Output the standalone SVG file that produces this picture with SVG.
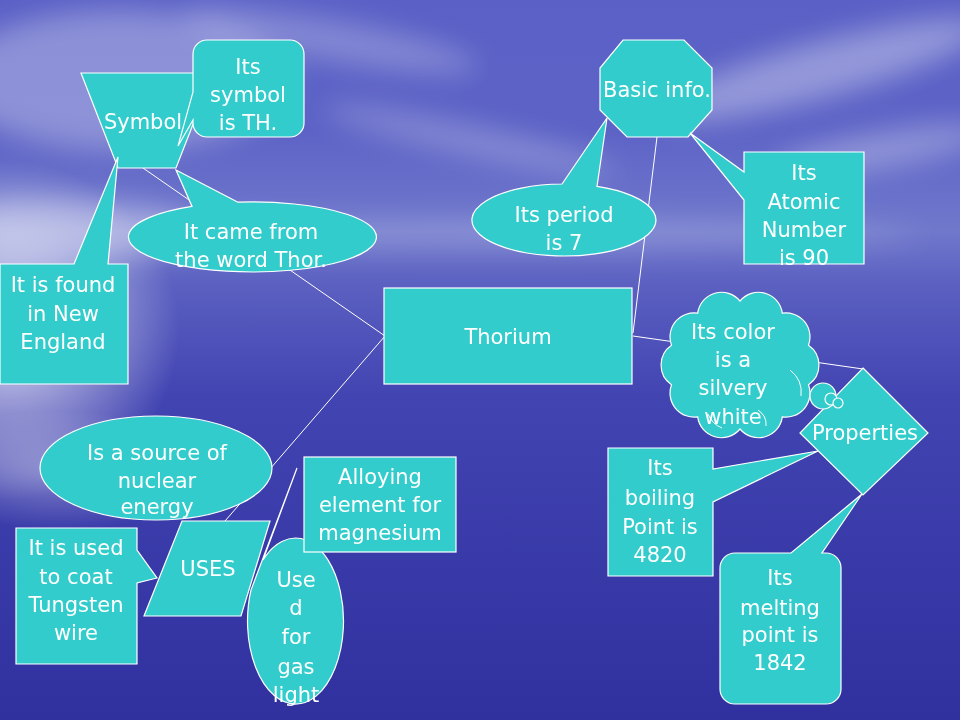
<svg xmlns="http://www.w3.org/2000/svg" width="960" height="720" viewBox="0 0 960 720">
<defs>
<linearGradient id="bg" x1="0" y1="0" x2="0" y2="1">
<stop offset="0" stop-color="#5a60c6"/>
<stop offset="0.18" stop-color="#5d63c6"/>
<stop offset="0.32" stop-color="#7078cc"/>
<stop offset="0.4" stop-color="#5a5fc0"/>
<stop offset="0.55" stop-color="#4244b2"/>
<stop offset="1" stop-color="#30309f"/>
</linearGradient>
<radialGradient id="glow" cx="0.5" cy="0.5" r="0.5">
<stop offset="0" stop-color="#ffffff" stop-opacity="0.8"/>
<stop offset="1" stop-color="#ffffff" stop-opacity="0"/>
</radialGradient>
<filter id="blur" x="-50%" y="-50%" width="200%" height="200%"><feGaussianBlur stdDeviation="14"/></filter>
<style>
.n{fill:#33CCCC;stroke:#ffffff;stroke-width:1.2}
.t{fill:#ffffff;font-family:"DejaVu Sans",Verdana,sans-serif;font-size:21px;text-anchor:middle}
.c{stroke:#ffffff;stroke-width:1;fill:none}
.in{fill:none;stroke:#ffffff;stroke-width:1}
</style>
</defs>
<rect width="960" height="720" fill="url(#bg)"/>
<g filter="url(#blur)" fill="#ffffff">
<ellipse cx="120" cy="80" rx="170" ry="70" opacity="0.3"/>
<ellipse cx="330" cy="40" rx="150" ry="20" opacity="0.25" transform="rotate(10 330 40)"/>
<ellipse cx="820" cy="70" rx="170" ry="28" opacity="0.35" transform="rotate(-15 820 70)"/>
<ellipse cx="880" cy="150" rx="110" ry="18" opacity="0.3" transform="rotate(-10 880 150)"/>
<ellipse cx="470" cy="140" rx="150" ry="14" opacity="0.25" transform="rotate(12 470 140)"/>
<ellipse cx="60" cy="230" rx="140" ry="30" opacity="0.35"/>
<ellipse cx="500" cy="235" rx="420" ry="14" opacity="0.2"/>
</g>
<ellipse cx="10" cy="330" rx="170" ry="170" fill="url(#glow)"/>
<ellipse cx="60" cy="470" rx="150" ry="60" fill="url(#glow)" opacity="0.45"/>

<g id="connectors">
<line class="c" x1="143" y1="168" x2="385" y2="336"/>
<line class="c" x1="385" y1="336" x2="225" y2="521"/>
<line class="c" x1="657" y1="137" x2="633" y2="333"/>
<line class="c" x1="633" y1="336" x2="863" y2="369"/>
</g>

<g id="thorium">
<rect class="n" x="384" y="288" width="248" height="96"/>
<text class="t" x="508" y="344">Thorium</text>
</g>

<g id="symbol">
<polygon class="n" points="81,73 213,73 176,168 118,168"/>
<text class="t" x="143" y="129">Symbol</text>
</g>

<g id="symbol-th">
<path class="n" d="M207,40 H290 A14 14 0 0 1 304,54 V123 A14 14 0 0 1 290,137 H207 A14 14 0 0 1 193,123 V120 L178,146 L193,92 V54 A14 14 0 0 1 207,40 Z"/>
<text class="t" x="248" y="74">Its</text>
<text class="t" x="248" y="102">symbol</text>
<text class="t" x="248" y="130">is TH.</text>
</g>

<g id="new-england">
<path class="n" d="M0,264 H74 L118,157 L108,264 H128 V384 H0 Z"/>
<text class="t" x="63" y="292">It is found</text>
<text class="t" x="63" y="321">in New</text>
<text class="t" x="63" y="349">England</text>
</g>

<g id="thor-word">
<path class="n" d="M238,202.2 L176,170 L192,206.4 A124 35 0 1 0 238,202.2 Z"/>
<text class="t" x="251" y="239">It came from</text>
<text class="t" x="251" y="267">the word Thor.</text>
</g>

<g id="basic-info">
<polygon class="n" points="623,40 684,40 712,68 712,110 688,137 627,137 600,110 600,68"/>
<text class="t" x="657" y="97">Basic info.</text>
</g>

<g id="period">
<path class="n" d="M562,184 L607,118 L597,186.4 A92 36 0 1 1 562,184 Z"/>
<text class="t" x="564" y="222">Its period</text>
<text class="t" x="564" y="250">is 7</text>
</g>

<g id="atomic">
<path class="n" d="M744,152 H864 V264 H744 V200 L690,133 L744,172 Z"/>
<text class="t" x="804" y="180">Its</text>
<text class="t" x="804" y="209">Atomic</text>
<text class="t" x="804" y="237">Number</text>
<text class="t" x="804" y="265">is 90</text>
</g>

<g id="properties">
<polygon class="n" points="863,368 928,433 863,495 800,433"/>
<text class="t" x="865" y="440">Properties</text>
</g>

<g id="color">
<path class="n" d="M808.5,384.8 A24 24 0 0 1 782.3,416.8 A24 24 0 0 1 740,429 A24 24 0 0 1 697.7,416.8 A24 24 0 0 1 671.5,384.8 A24 24 0 0 1 671.5,345.2 A24 24 0 0 1 697.7,313.2 A24 24 0 0 1 740,301 A24 24 0 0 1 782.3,313.2 A24 24 0 0 1 808.5,345.2 A24 24 0 0 1 808.5,384.8 Z"/>
<path class="in" d="M790,370 Q803,380 801,396"/>
<path class="in" d="M758,410 Q767,416 766,426"/>
<path class="in" d="M722,428 Q712,424 708,414"/>
<circle class="n" cx="823" cy="396" r="13"/>
<circle class="n" cx="831" cy="399" r="6"/>
<circle class="n" cx="838" cy="403" r="5"/>
<text class="t" x="733" y="339">Its color</text>
<text class="t" x="733" y="367">is a</text>
<text class="t" x="733" y="395">silvery</text>
<text class="t" x="733" y="424">white</text>
</g>

<g id="boiling">
<path class="n" d="M608,448 H713 V469 L818,451 L713,502 V576 H608 Z"/>
<text class="t" x="660" y="475">Its</text>
<text class="t" x="660" y="505">boiling</text>
<text class="t" x="660" y="534">Point is</text>
<text class="t" x="660" y="562">4820</text>
</g>

<g id="melting">
<path class="n" d="M735,553 H791 L862,494 L822,553 H826 A15 15 0 0 1 841,568 V689 A15 15 0 0 1 826,704 H735 A15 15 0 0 1 720,689 V568 A15 15 0 0 1 735,553 Z"/>
<text class="t" x="780" y="585">Its</text>
<text class="t" x="780" y="615">melting</text>
<text class="t" x="780" y="642">point is</text>
<text class="t" x="780" y="670">1842</text>
</g>

<g id="uses">
<polygon class="n" points="182,521 270,521 241,616 144,616"/>
<text class="t" x="208" y="576">USES</text>
</g>

<g id="nuclear">
<ellipse class="n" cx="156" cy="468" rx="116" ry="52"/>
<text class="t" x="157" y="460">Is a source of</text>
<text class="t" x="157" y="488">nuclear</text>
<text class="t" x="157" y="514">energy</text>
</g>

<g id="tungsten">
<path class="n" d="M16,528 H137 V550 L157,578 L137,583 V664 H16 Z"/>
<text class="t" x="76" y="555">It is used</text>
<text class="t" x="76" y="584">to coat</text>
<text class="t" x="76" y="612">Tungsten</text>
<text class="t" x="76" y="640">wire</text>
</g>

<g id="gas-light">
<path class="n" d="M251,590 L297,468 L263,560 A48 83 0 1 1 251,590 Z"/>
<text class="t" x="296" y="587">Use</text>
<text class="t" x="296" y="615">d</text>
<text class="t" x="296" y="644">for</text>
<text class="t" x="296" y="674">gas</text>
<text class="t" x="296" y="702">light</text>
</g>

<g id="alloying">
<rect class="n" x="304" y="457" width="152" height="95"/>
<text class="t" x="380" y="484">Alloying</text>
<text class="t" x="380" y="512">element for</text>
<text class="t" x="380" y="540">magnesium</text>
</g>
</svg>
